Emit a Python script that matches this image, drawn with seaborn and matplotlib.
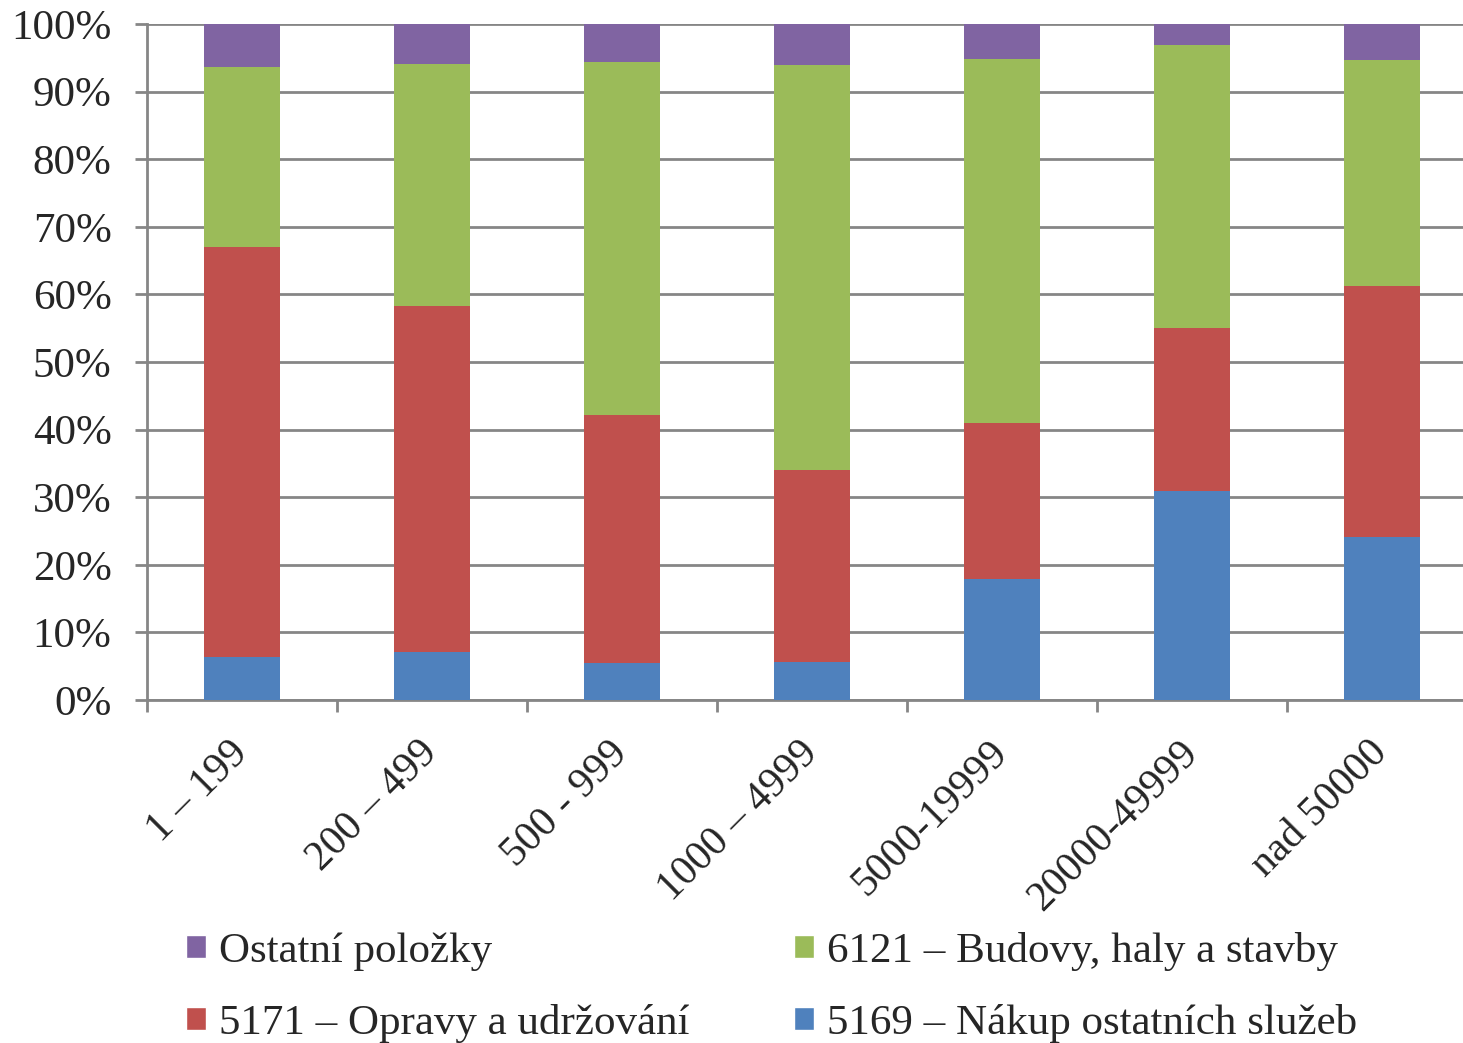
import numpy as np
import pandas as pd
import matplotlib
matplotlib.use('Agg')
import matplotlib.pyplot as plt
from matplotlib.patches import Patch
import seaborn as sns

# data (shares in %)
categories = ['1 – 199', '200 – 499', '500 - 999', '1000 – 4999', '5000-19999', '20000-49999', 'nad 50000']
blue = [6.4, 7.1, 5.5, 5.6, 17.9, 30.9, 24.1]
red = [60.6, 51.2, 36.7, 28.4, 23.1, 24.1, 37.1]
green = [26.6, 35.8, 52.2, 59.9, 53.8, 41.9, 33.5]
purple = [6.4, 5.9, 5.6, 6.1, 5.2, 3.1, 5.3]

names = ['5169 – Nákup ostatních služeb', '5171 – Opravy a udržování',
         '6121 – Budovy, haly a stavby', 'Ostatní položky']
colors = ['#4F81BD', '#C0504D', '#9BBB59', '#8064A2']

df = pd.DataFrame({'cat': categories, 'blue': blue, 'red': red, 'green': green, 'purple': purple})
df = df.set_index('cat')
cum = df.cumsum(axis=1)

sns.set_style('white')
plt.rcParams['font.family'] = ['Liberation Serif', 'DejaVu Serif']

fig = plt.figure(figsize=(14.63, 10.43), dpi=100)
ax = fig.add_axes([147 / 1463, 1 - 700 / 1043, 1330 / 1463, 676 / 1043])

# stacked bars: draw cumulative totals from top layer down
for col, c in zip(['purple', 'green', 'red', 'blue'], colors[::-1]):
    sns.barplot(x=cum.index, y=cum[col].values, color=c, width=0.395,
                saturation=1, linewidth=0, ax=ax, zorder=3)

ax.set_ylim(0, 100)
ax.set_xlim(-0.5, len(categories) - 0.5)
ax.set_yticks(np.arange(0, 101, 10))
ax.set_yticklabels([f'{v}%' for v in range(0, 101, 10)])
ax.yaxis.grid(True, color='#868686', linewidth=2, zorder=0)
ax.set_axisbelow(True)
ax.set_xlabel('')
ax.set_ylabel('')

for s in ['top', 'right']:
    ax.spines[s].set_visible(False)
for s in ['left', 'bottom']:
    ax.spines[s].set_color('#868686')
    ax.spines[s].set_linewidth(2)

ax.tick_params(axis='y', length=8.5, width=2, color='#868686', labelsize=31, pad=17, left=True)
ax.set_xticks(np.arange(len(categories)))
ax.set_xticklabels(categories, rotation=45, ha='right', va='center', rotation_mode='anchor', fontsize=30)
ax.tick_params(axis='x', which='major', length=0, pad=34)
ax.set_xticks(np.arange(-0.5, len(categories), 1), minor=True)
ax.tick_params(axis='x', which='minor', length=8.5, width=2, color='#868686', bottom=True)

handles = [Patch(facecolor=colors[3]), Patch(facecolor=colors[1]),
           Patch(facecolor=colors[2]), Patch(facecolor=colors[0])]
labels = [names[3], names[1], names[2], names[0]]
fig.legend(handles, labels, ncol=2, loc='upper left', bbox_to_anchor=(169 / 1463, 1 - 915 / 1043),
           frameon=False, fontsize=31, handlelength=0.45, handleheight=0.45, handletextpad=0.3,
           columnspacing=2.45, labelspacing=0.75, borderaxespad=0)

fig.savefig('out.png', dpi=100)
